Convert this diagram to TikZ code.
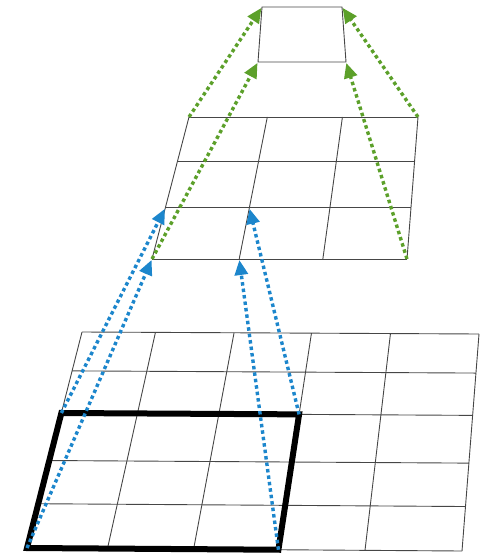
\documentclass[tikz,border=0pt]{standalone}
\usetikzlibrary{arrows.meta,calc}
\definecolor{fieldblue}{RGB}{28,134,204}
\definecolor{fieldgreen}{RGB}{92,160,42}
\definecolor{gridgray}{RGB}{70,70,70}

\begin{document}
\begin{tikzpicture}[x=1pt, y=-1pt,
    gridline/.style={draw=gridgray, line width=0.9pt},
    fieldbox/.style={draw=black, line width=6pt},
    mapping/.style={line width=3.4pt, dash pattern=on 3.5pt off 3pt, -{Triangle[length=15pt,width=13pt]}, shorten >=1pt},
    greenmap/.style={mapping, fieldgreen},
    bluemap/.style={mapping, fieldblue}
]
    \useasboundingbox (0,0) rectangle (491,553);

    % corners of the three layers
    \coordinate (bTL) at (82,332);
    \coordinate (bTR) at (479,334);
    \coordinate (bBL) at (27,548);
    \coordinate (bBR) at (462,551);
    \coordinate (mTL) at (189,117);
    \coordinate (mTR) at (418,117);
    \coordinate (mBL) at (152,259);
    \coordinate (mBR) at (407,259);
    \coordinate (tTL) at (262,7);
    \coordinate (tTR) at (342,7);
    \coordinate (tBR) at (346,62);
    \coordinate (tBL) at (258,62);

    % input layer (5x5)
    \foreach \c/\s in {0/0,1/0.185,2/0.383,3/0.578,4/0.777,5/1}
        \foreach \r/\t in {0/0,1/0.18,2/0.375,3/0.595,4/0.795,5/1}
            \coordinate (b-\c-\r) at ($($(bTL)!\s!(bTR)$)!\t!($(bBL)!\s!(bBR)$)$);
    \foreach \c in {0,...,5}
        \draw[gridline] (b-\c-0) -- (b-\c-5);
    \foreach \r in {0,...,5}
        \draw[gridline] (b-0-\r) -- (b-5-\r);

    % hidden layer (3x3)
    \foreach \c/\s in {0/0,1/0.342,2/0.67,3/1}
        \foreach \r/\t in {0/0,1/0.31,2/0.64,3/1}
            \coordinate (m-\c-\r) at ($($(mTL)!\s!(mTR)$)!\t!($(mBL)!\s!(mBR)$)$);
    \foreach \c in {0,...,3}
        \draw[gridline] (m-\c-0) -- (m-\c-3);
    \foreach \r in {0,...,3}
        \draw[gridline] (m-0-\r) -- (m-3-\r);

    % output unit
    \draw[gridline] (tTL) -- (tTR) -- (tBR) -- (tBL) -- cycle;

    % receptive field
    \draw[fieldbox] (b-0-2) -- (b-3-2) -- (b-3-5) -- (b-0-5) -- cycle;

    % blue: input -> hidden
    \draw[bluemap] (b-0-5) -- (m-0-3);
    \draw[bluemap] (b-0-2) -- (m-0-2);
    \draw[bluemap] (b-3-5) -- (m-1-3);
    \draw[bluemap] (b-3-2) -- (m-1-2);

    % green: hidden -> output
    \draw[greenmap] (m-0-0) -- (tTL);
    \draw[greenmap] (m-0-3) -- (tBL);
    \draw[greenmap] (m-3-3) -- (tBR);
    \draw[greenmap] (m-3-0) -- (tTR);
\end{tikzpicture}
\end{document}
